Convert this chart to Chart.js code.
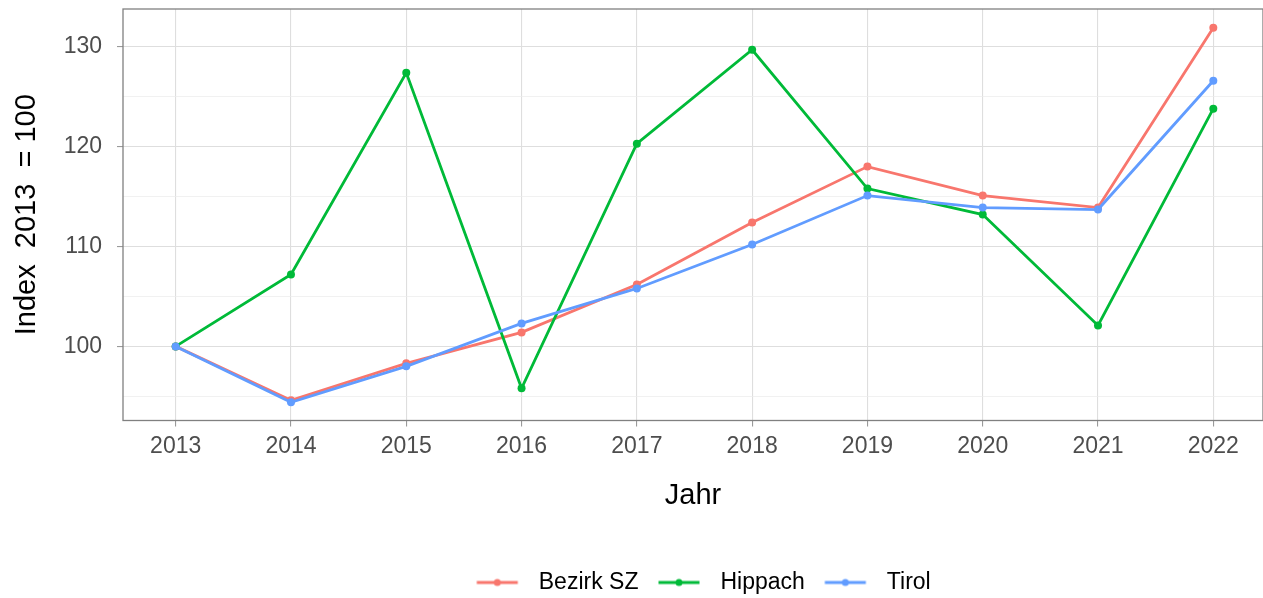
<!DOCTYPE html>
<html>
<head>
<meta charset="utf-8">
<script src="https://cdn.jsdelivr.net/npm/chart.js"></script>
<style>
  html, body { margin: 0; padding: 0; background: #fff; }
  #wrap { width: 1263px; height: 598px; }
</style>
</head>
<body>
<div id="wrap"><canvas id="indexChart" width="1263" height="598"></canvas></div>
<script>
// Index values (2013 = 100)
const years = [2013, 2014, 2015, 2016, 2017, 2018, 2019, 2020, 2021, 2022];
const bezirkSZ = [100, 94.6, 98.3, 101.4, 106.2, 112.4, 118.0, 115.1, 113.9, 131.9];
const hippach = [100, 107.2, 127.4, 95.8, 120.3, 129.7, 115.8, 113.2, 102.1, 123.8];
const tirol = [100, 94.4, 98.0, 102.3, 105.8, 110.2, 115.1, 113.9, 113.7, 126.6];

const seriesNames = ['Bezirk SZ', 'Hippach', 'Tirol'];
const seriesColors = ['#F8766D', '#00BA38', '#619CFF'];

// y axis: labelled breaks and the minor grid lines in between
const yMajor = [100, 110, 120, 130];
const yMinor = [95, 105, 115, 125];

const FONT = "'Liberation Sans', Arial, sans-serif";

// Build a dataset from a series
function makeDataset(idx, values) {
    return {
        label: seriesNames[idx],
        data: years.map((yr, i) => ({ x: yr, y: values[i] })),
        borderColor: seriesColors[idx],
        backgroundColor: seriesColors[idx],
        borderWidth: 2.8,
        pointRadius: 4,
        pointHoverRadius: 4,
        pointBorderWidth: 0,
        tension: 0,
        order: 2 - idx
    };
}

// Small line-with-dot legend key, like ggplot's
function legendKey(color) {
    const c = document.createElement('canvas');
    c.width = 60;
    c.height = 12;
    const g = c.getContext('2d');
    g.strokeStyle = color;
    g.lineWidth = 3;
    g.beginPath();
    g.moveTo(9.5, 6);
    g.lineTo(50.5, 6);
    g.stroke();
    g.fillStyle = color;
    g.beginPath();
    g.arc(30, 6, 3.5, 0, Math.PI * 2);
    g.fill();
    return c;
}

// Draw grey frame around the plot panel, nudge legend to panel centre
const panelBorder = {
    id: 'panelBorder',
    afterLayout(chart) {
        if (chart.legend) {
            chart.legend.left += 6;
            chart.legend.right += 6;
        }
    },
    afterDraw(chart) {
        const a = chart.chartArea;
        const ctx = chart.ctx;
        ctx.save();
        ctx.strokeStyle = '#808080';
        ctx.lineWidth = 1.3;
        ctx.strokeRect(a.left, a.top, a.right - a.left, a.bottom - a.top);
        ctx.restore();
    }
};

new Chart(document.getElementById('indexChart'), {
    type: 'line',
    data: {
        datasets: [
            makeDataset(0, bezirkSZ),
            makeDataset(1, hippach),
            makeDataset(2, tirol)
        ]
    },
    options: {
        responsive: false,
        animation: false,
        layout: {
            autoPadding: false,
            padding: { top: 9, right: 0, left: 0, bottom: -6 }
        },
        plugins: {
            tooltip: { enabled: false },
            legend: {
                position: 'bottom',
                fullSize: false,
                labels: {
                    usePointStyle: true,
                    pointStyleWidth: 60,
                    padding: 10.5,
                    color: '#000',
                    font: { family: FONT, size: 23, lineHeight: 1 },
                    generateLabels: function(chart) {
                        return chart.data.datasets.map((ds, i) => ({
                            text: ds.label,
                            pointStyle: legendKey(seriesColors[i]),
                            fillStyle: seriesColors[i],
                            strokeStyle: seriesColors[i],
                            lineWidth: 0,
                            fontColor: '#000',
                            datasetIndex: i,
                            hidden: false
                        }));
                    }
                }
            }
        },
        scales: {
            x: {
                type: 'linear',
                min: 2012.543,
                max: 2022.431,
                afterBuildTicks: function(scale) {
                    scale.ticks = years.map(v => ({ value: v }));
                },
                afterFit: function(scale) {
                    scale.height = 140;
                    scale.paddingLeft = 0;
                    scale.paddingRight = 0;
                },
                grid: {
                    color: '#dedede',
                    lineWidth: 1.1,
                    tickLength: 6,
                    tickColor: '#9a9a9a'
                },
                border: { display: false },
                ticks: {
                    color: '#4d4d4d',
                    padding: 6,
                    maxRotation: 0,
                    font: { family: FONT, size: 23 },
                    callback: v => String(v)
                },
                title: {
                    display: true,
                    text: 'Jahr',
                    color: '#000',
                    font: { family: FONT, size: 29 },
                    padding: { top: 0, bottom: 47.6 }
                }
            },
            y: {
                min: 92.58,
                max: 133.78,
                afterBuildTicks: function(scale) {
                    scale.ticks = yMajor.concat(yMinor).sort((a, b) => a - b).map(v => ({ value: v }));
                },
                afterFit: function(scale) {
                    scale.width = 123;
                    scale.paddingTop = 0;
                    scale.paddingBottom = 0;
                },
                grid: {
                    color: ctx => yMajor.includes(ctx.tick.value) ? '#dedede' : '#ebebeb',
                    lineWidth: ctx => yMajor.includes(ctx.tick.value) ? 1.1 : 0.7,
                    tickLength: 6,
                    tickColor: ctx => yMajor.includes(ctx.tick.value) ? '#9a9a9a' : 'rgba(0,0,0,0)'
                },
                border: { display: false },
                ticks: {
                    color: '#4d4d4d',
                    padding: 15,
                    font: { family: FONT, size: 23 },
                    callback: v => yMajor.includes(v) ? String(v) : ''
                },
                title: {
                    display: true,
                    text: 'Index  2013  = 100',
                    color: '#000',
                    font: { family: FONT, size: 29 },
                    padding: { top: 10, bottom: 0 }
                }
            }
        }
    },
    plugins: [panelBorder]
});
</script>
</body>
</html>
